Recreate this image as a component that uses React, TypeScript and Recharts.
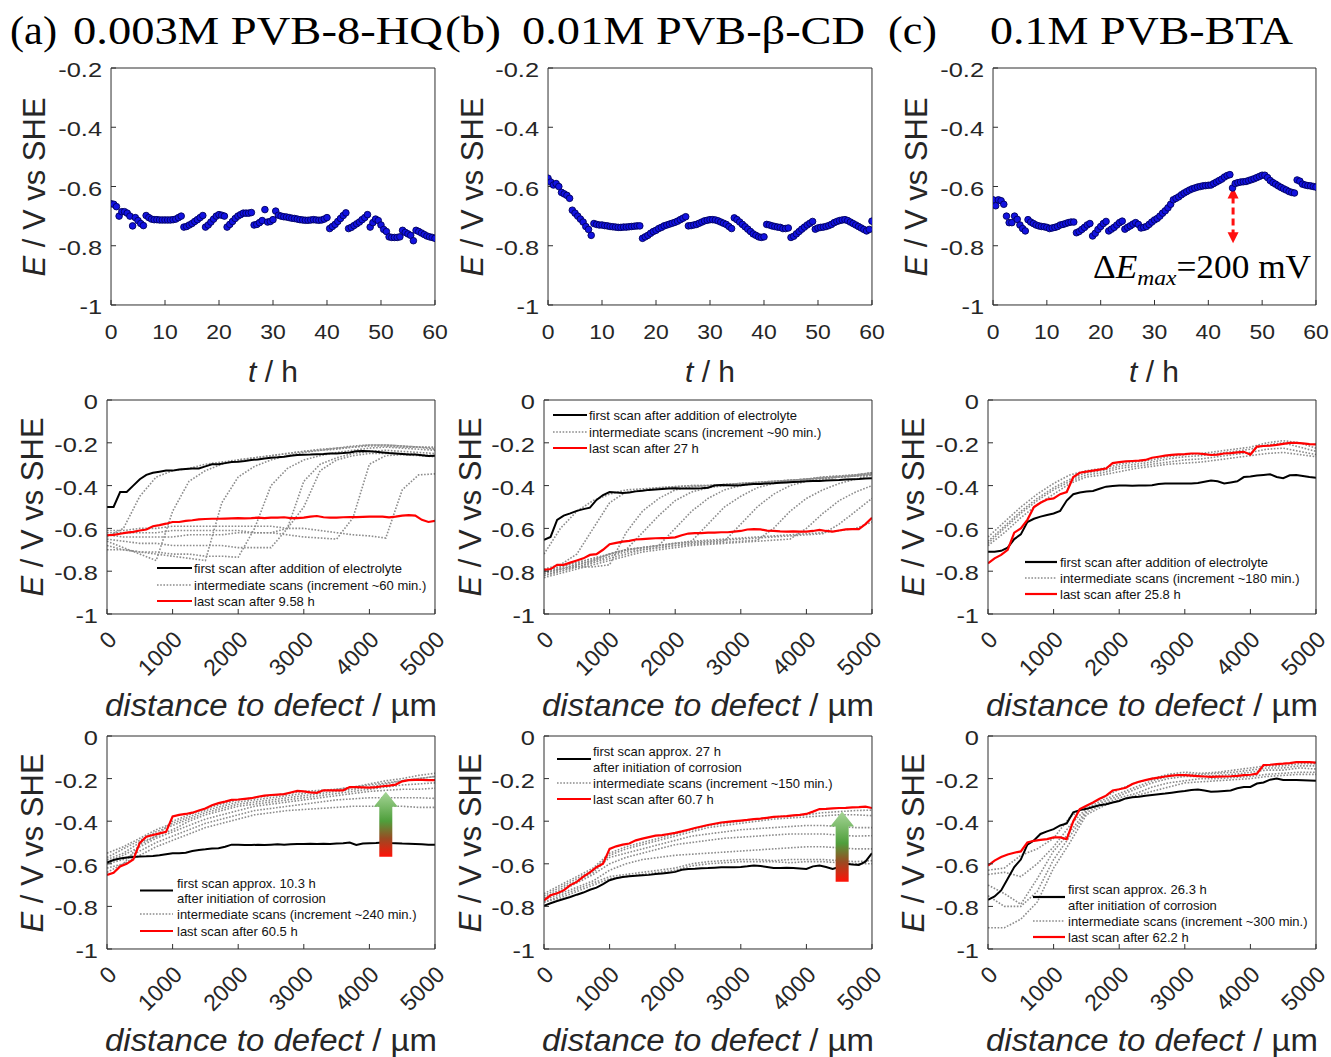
import React from 'react';
import { ComposedChart, Line, Scatter, XAxis, YAxis, ReferenceLine, Legend } from 'recharts';

const AX = '#2e2e2e';
const TXT = '#262626';
const SANS = "'Liberation Sans', Arial, Helvetica, sans-serif";
const SERIF = "'Liberation Serif', 'Times New Roman', Times, serif";
const GRAY = '#8c8c8c';
const RED = '#ff0000';
const THIN = 0.01;

const ML = 120, MT = 20, MR = 24, MB = 110;

// ---------- Row 1 : open circuit potential vs time ----------
const T_H = [0,0.5,1,1.5,2,2.5,3,3.5,4,4.5,5,5.5,6,6.5,7,7.5,8,8.5,9,9.5,10,10.5,11,11.5,12,12.5,13,13.5,14,14.5,15,15.5,16,16.5,17,17.5,18,18.5,19,19.5,20,20.5,21,21.5,22,22.5,23,23.5,24,24.5,25,25.5,26,26.5,27,27.5,28,28.5,29,29.5,30,30.5,31,31.5,32,32.5,33,33.5,34,34.5,35,35.5,36,36.5,37,37.5,38,38.5,39,39.5,40,40.5,41,41.5,42,42.5,43,43.5,44,44.5,45,45.5,46,46.5,47,47.5,48,48.5,49,49.5,50,50.5,51,51.5,52,52.5,53,53.5,54,54.5,55,55.5,56,56.5,57,57.5,58,58.5,59,59.5,60];

const E_A = [
  -0.658,-0.660,-0.668,-0.700,-0.685,-0.685,-0.690,-0.700,-0.733,-0.705,
  -0.715,-0.725,-0.732,-0.698,-0.705,-0.710,-0.712,-0.712,-0.713,-0.713,
  -0.713,-0.713,-0.713,-0.712,-0.710,-0.705,-0.700,-0.737,-0.735,-0.730,
  -0.725,-0.718,-0.712,-0.705,-0.698,-0.737,-0.730,-0.720,-0.710,-0.700,
  -0.695,-0.697,-0.700,-0.737,-0.728,-0.718,-0.708,-0.700,-0.695,-0.690,
  -0.690,-0.690,-0.688,-0.730,-0.728,-0.722,-0.715,-0.678,-0.720,-0.718,
  -0.712,-0.683,-0.697,-0.700,-0.702,-0.703,-0.705,-0.707,-0.708,-0.710,
  -0.712,-0.713,-0.714,-0.714,-0.713,-0.712,-0.713,-0.714,-0.713,-0.710,
  -0.705,-0.742,-0.735,-0.728,-0.718,-0.708,-0.698,-0.689,-0.742,-0.738,
  -0.732,-0.726,-0.720,-0.712,-0.705,-0.695,-0.737,-0.722,-0.710,-0.715,
  -0.730,-0.745,-0.752,-0.770,-0.772,-0.772,-0.772,-0.770,-0.748,-0.755,
  -0.760,-0.765,-0.783,-0.748,-0.752,-0.757,-0.762,-0.767,-0.770,-0.772,
  -0.775
];
const E_B = [
  -0.572,-0.585,-0.595,-0.590,-0.600,-0.620,-0.625,-0.630,-0.640,-0.680,
  -0.690,-0.700,-0.710,-0.720,-0.735,-0.745,-0.765,-0.725,-0.728,-0.730,
  -0.730,-0.732,-0.733,-0.735,-0.736,-0.737,-0.738,-0.738,-0.737,-0.737,
  -0.736,-0.735,-0.734,-0.733,-0.733,-0.775,-0.770,-0.765,-0.758,-0.752,
  -0.748,-0.742,-0.738,-0.733,-0.730,-0.727,-0.724,-0.721,-0.717,-0.712,
  -0.707,-0.702,-0.733,-0.732,-0.730,-0.728,-0.724,-0.720,-0.716,-0.714,
  -0.712,-0.712,-0.713,-0.716,-0.720,-0.724,-0.728,-0.735,-0.742,-0.706,
  -0.712,-0.720,-0.728,-0.736,-0.744,-0.752,-0.760,-0.765,-0.770,-0.772,
  -0.770,-0.728,-0.730,-0.733,-0.735,-0.737,-0.738,-0.742,-0.742,-0.740,
  -0.772,-0.768,-0.760,-0.752,-0.744,-0.737,-0.730,-0.724,-0.718,-0.744,
  -0.740,-0.738,-0.737,-0.735,-0.732,-0.728,-0.722,-0.718,-0.715,-0.713,
  -0.712,-0.715,-0.720,-0.725,-0.730,-0.735,-0.740,-0.745,-0.750,-0.745,
  -0.717
];
const E_C = [
  -0.645,-0.665,-0.645,-0.648,-0.660,-0.700,-0.722,-0.722,-0.700,-0.711,
  -0.730,-0.742,-0.750,-0.712,-0.720,-0.725,-0.730,-0.733,-0.735,-0.736,
  -0.738,-0.742,-0.740,-0.738,-0.735,-0.730,-0.728,-0.725,-0.722,-0.720,
  -0.720,-0.756,-0.752,-0.745,-0.738,-0.730,-0.725,-0.767,-0.758,-0.745,
  -0.735,-0.725,-0.718,-0.750,-0.744,-0.738,-0.730,-0.722,-0.717,-0.744,
  -0.738,-0.733,-0.727,-0.722,-0.728,-0.740,-0.738,-0.735,-0.728,-0.720,
  -0.713,-0.708,-0.700,-0.690,-0.682,-0.672,-0.660,-0.645,-0.640,-0.635,
  -0.628,-0.622,-0.617,-0.612,-0.608,-0.605,-0.602,-0.600,-0.598,-0.597,
  -0.596,-0.595,-0.590,-0.585,-0.580,-0.575,-0.568,-0.563,-0.560,-0.605,
  -0.590,-0.587,-0.585,-0.584,-0.583,-0.580,-0.577,-0.574,-0.570,-0.566,
  -0.562,-0.562,-0.570,-0.580,-0.587,-0.592,-0.598,-0.603,-0.608,-0.612,
  -0.617,-0.620,-0.622,-0.578,-0.582,-0.592,-0.595,-0.597,-0.598,-0.600,
  -0.602
];

const T_TICKS = [0,10,20,30,40,50,60];
const T_MINOR = [0,2,4,6,8,10,12,14,16,18,20,22,24,26,28,30,32,34,36,38,40,42,44,46,48,50,52,54,56,58,60];
const E1_TICKS = [-1,-0.8,-0.6,-0.4,-0.2];
const E1_MINOR = [-1,-0.95,-0.9,-0.85,-0.8,-0.75,-0.7,-0.65,-0.6,-0.55,-0.5,-0.45,-0.4,-0.35,-0.3,-0.25,-0.2];

// ---------- Rows 2 & 3 : line scans ----------
const D100 = [0,100,200,300,400,500,600,700,800,900,1000,1100,1200,1300,1400,1500,1600,1700,1800,1900,2000,2100,2200,2300,2400,2500,2600,2700,2800,2900,3000,3100,3200,3300,3400,3500,3600,3700,3800,3900,4000,4100,4200,4300,4400,4500,4600,4700,4800,4900,5000];
const D250 = [0,250,500,750,1000,1250,1500,1750,2000,2250,2500,2750,3000,3250,3500,3750,4000,4250,4500,4750,5000];
const D_TICKS = [0,1000,2000,3000,4000,5000];
const E2_TICKS = [-1,-0.8,-0.6,-0.4,-0.2,0];

// Row 2 (a)
const R2A_FIRST = [
  -0.500,-0.500,-0.430,-0.430,-0.400,-0.370,-0.350,-0.340,-0.335,-0.330,
  -0.330,-0.325,-0.322,-0.320,-0.320,-0.310,-0.300,-0.300,-0.295,-0.290,
  -0.288,-0.285,-0.280,-0.278,-0.273,-0.270,-0.268,-0.265,-0.260,-0.257,
  -0.256,-0.255,-0.253,-0.252,-0.250,-0.250,-0.248,-0.245,-0.240,-0.238,
  -0.240,-0.242,-0.245,-0.248,-0.250,-0.252,-0.255,-0.255,-0.258,-0.262,
  -0.260
];
const R2A_LAST = [
  -0.632,-0.630,-0.625,-0.620,-0.616,-0.610,-0.605,-0.590,-0.585,-0.578,
  -0.570,-0.570,-0.565,-0.562,-0.558,-0.556,-0.555,-0.555,-0.554,-0.553,
  -0.552,-0.553,-0.552,-0.550,-0.552,-0.550,-0.550,-0.548,-0.552,-0.552,
  -0.550,-0.545,-0.542,-0.548,-0.550,-0.550,-0.548,-0.547,-0.547,-0.546,
  -0.545,-0.545,-0.545,-0.548,-0.545,-0.540,-0.538,-0.540,-0.560,-0.570,
  -0.565
];
const R2A_M1 = [-0.64,-0.60,-0.45,-0.36,-0.33,-0.32,-0.30,-0.29,-0.28,-0.27,-0.26,-0.25,-0.24,-0.235,-0.23,-0.22,-0.215,-0.215,-0.22,-0.22,-0.225];
const R2A_M2 = [-0.66,-0.69,-0.72,-0.75,-0.52,-0.38,-0.33,-0.30,-0.28,-0.27,-0.26,-0.25,-0.24,-0.23,-0.225,-0.22,-0.21,-0.21,-0.215,-0.22,-0.22];
const R2A_M3 = [-0.68,-0.70,-0.71,-0.72,-0.73,-0.74,-0.75,-0.48,-0.36,-0.31,-0.28,-0.26,-0.245,-0.235,-0.225,-0.215,-0.21,-0.21,-0.215,-0.22,-0.23];
const R2A_M4 = [-0.70,-0.70,-0.71,-0.71,-0.72,-0.72,-0.73,-0.73,-0.735,-0.60,-0.40,-0.32,-0.28,-0.26,-0.245,-0.235,-0.225,-0.22,-0.225,-0.23,-0.235];
const R2A_M5 = [-0.65,-0.66,-0.67,-0.67,-0.68,-0.68,-0.68,-0.68,-0.69,-0.69,-0.69,-0.60,-0.38,-0.30,-0.27,-0.25,-0.24,-0.235,-0.24,-0.245,-0.25];
const R2A_M6 = [-0.63,-0.64,-0.64,-0.64,-0.64,-0.63,-0.63,-0.63,-0.62,-0.62,-0.62,-0.60,-0.50,-0.33,-0.28,-0.26,-0.25,-0.25,-0.25,-0.255,-0.26];
const R2A_M7 = [-0.62,-0.62,-0.62,-0.62,-0.61,-0.61,-0.61,-0.61,-0.61,-0.62,-0.62,-0.63,-0.64,-0.645,-0.65,-0.55,-0.30,-0.26,-0.255,-0.26,-0.265];
const R2A_M8 = [-0.61,-0.61,-0.60,-0.60,-0.59,-0.59,-0.59,-0.59,-0.59,-0.59,-0.59,-0.60,-0.60,-0.61,-0.62,-0.63,-0.635,-0.645,-0.42,-0.35,-0.345];
const R2A_MID = [R2A_M1, R2A_M2, R2A_M3, R2A_M4, R2A_M5, R2A_M6, R2A_M7, R2A_M8];

// Row 2 (b)
const R2B_FIRST = [
  -0.654,-0.640,-0.560,-0.540,-0.530,-0.518,-0.510,-0.503,-0.467,-0.444,
  -0.430,-0.432,-0.435,-0.432,-0.427,-0.424,-0.420,-0.418,-0.416,-0.414,
  -0.412,-0.413,-0.414,-0.413,-0.412,-0.410,-0.400,-0.397,-0.398,-0.399,
  -0.398,-0.395,-0.393,-0.392,-0.390,-0.389,-0.387,-0.385,-0.383,-0.382,
  -0.380,-0.379,-0.378,-0.376,-0.375,-0.374,-0.372,-0.370,-0.369,-0.367,
  -0.366
];
const R2B_LAST = [
  -0.794,-0.790,-0.770,-0.770,-0.760,-0.750,-0.740,-0.724,-0.720,-0.700,
  -0.674,-0.668,-0.662,-0.658,-0.652,-0.650,-0.648,-0.646,-0.645,-0.644,
  -0.642,-0.632,-0.624,-0.622,-0.622,-0.620,-0.620,-0.618,-0.618,-0.615,
  -0.612,-0.605,-0.603,-0.605,-0.610,-0.612,-0.614,-0.615,-0.614,-0.615,
  -0.615,-0.612,-0.607,-0.612,-0.615,-0.610,-0.605,-0.603,-0.603,-0.580,
  -0.550
];
const R2B_M1 = [-0.72,-0.60,-0.52,-0.47,-0.44,-0.42,-0.415,-0.41,-0.405,-0.40,-0.40,-0.395,-0.39,-0.385,-0.38,-0.375,-0.37,-0.365,-0.36,-0.355,-0.35];
const R2B_M2 = [-0.79,-0.77,-0.72,-0.60,-0.48,-0.43,-0.42,-0.41,-0.405,-0.40,-0.40,-0.395,-0.39,-0.385,-0.38,-0.375,-0.37,-0.365,-0.36,-0.355,-0.35];
const R2B_M3 = [-0.81,-0.79,-0.78,-0.78,-0.77,-0.62,-0.52,-0.46,-0.42,-0.405,-0.40,-0.395,-0.39,-0.385,-0.38,-0.375,-0.37,-0.365,-0.36,-0.355,-0.345];
const R2B_M4 = [-0.80,-0.78,-0.76,-0.74,-0.72,-0.70,-0.62,-0.54,-0.47,-0.43,-0.41,-0.40,-0.395,-0.39,-0.385,-0.38,-0.37,-0.365,-0.36,-0.355,-0.345];
const R2B_M5 = [-0.80,-0.79,-0.77,-0.75,-0.72,-0.70,-0.69,-0.68,-0.60,-0.52,-0.46,-0.42,-0.40,-0.39,-0.385,-0.375,-0.37,-0.36,-0.355,-0.35,-0.34];
const R2B_M6 = [-0.81,-0.79,-0.77,-0.75,-0.72,-0.70,-0.69,-0.68,-0.67,-0.66,-0.58,-0.50,-0.45,-0.41,-0.39,-0.38,-0.37,-0.36,-0.355,-0.35,-0.34];
const R2B_M7 = [-0.82,-0.80,-0.78,-0.76,-0.73,-0.71,-0.70,-0.69,-0.68,-0.67,-0.665,-0.66,-0.58,-0.50,-0.44,-0.40,-0.38,-0.37,-0.36,-0.35,-0.34];
const R2B_M8 = [-0.82,-0.80,-0.78,-0.76,-0.74,-0.72,-0.70,-0.69,-0.68,-0.675,-0.67,-0.665,-0.66,-0.655,-0.60,-0.52,-0.46,-0.42,-0.39,-0.37,-0.35];
const R2B_M9 = [-0.83,-0.81,-0.79,-0.77,-0.75,-0.73,-0.71,-0.70,-0.69,-0.68,-0.675,-0.67,-0.665,-0.66,-0.655,-0.65,-0.60,-0.53,-0.47,-0.43,-0.40];
const R2B_M10 = [-0.80,-0.78,-0.76,-0.74,-0.72,-0.70,-0.69,-0.68,-0.67,-0.665,-0.66,-0.655,-0.65,-0.645,-0.64,-0.635,-0.63,-0.625,-0.58,-0.52,-0.46];
const R2B_M11 = [-0.81,-0.79,-0.77,-0.75,-0.72,-0.70,-0.69,-0.68,-0.67,-0.66,-0.655,-0.65,-0.645,-0.64,-0.635,-0.63,-0.625,-0.62,-0.61,-0.60,-0.57];
const R2B_MID = [R2B_M1, R2B_M2, R2B_M3, R2B_M4, R2B_M5, R2B_M6, R2B_M7, R2B_M8, R2B_M9, R2B_M10, R2B_M11];

// Row 2 (c)
const R2C_FIRST = [
  -0.709,-0.709,-0.705,-0.690,-0.650,-0.628,-0.570,-0.555,-0.545,-0.537,
  -0.530,-0.518,-0.470,-0.440,-0.432,-0.428,-0.425,-0.415,-0.405,-0.402,
  -0.400,-0.400,-0.401,-0.400,-0.400,-0.398,-0.393,-0.390,-0.390,-0.390,
  -0.390,-0.390,-0.388,-0.382,-0.376,-0.380,-0.390,-0.385,-0.380,-0.360,
  -0.357,-0.353,-0.350,-0.347,-0.360,-0.365,-0.352,-0.350,-0.355,-0.360,
  -0.363
];
const R2C_LAST = [
  -0.763,-0.740,-0.724,-0.700,-0.620,-0.600,-0.560,-0.500,-0.480,-0.465,
  -0.460,-0.440,-0.430,-0.360,-0.340,-0.335,-0.330,-0.325,-0.320,-0.295,
  -0.290,-0.287,-0.285,-0.283,-0.280,-0.270,-0.265,-0.260,-0.256,-0.254,
  -0.253,-0.250,-0.250,-0.253,-0.257,-0.255,-0.250,-0.248,-0.245,-0.242,
  -0.255,-0.218,-0.215,-0.213,-0.210,-0.205,-0.200,-0.200,-0.203,-0.206,
  -0.207
];
const R2C_M1 = [-0.64,-0.57,-0.50,-0.44,-0.39,-0.35,-0.33,-0.32,-0.30,-0.29,-0.28,-0.265,-0.255,-0.25,-0.24,-0.23,-0.22,-0.20,-0.19,-0.20,-0.225];
const R2C_M2 = [-0.66,-0.59,-0.52,-0.46,-0.41,-0.37,-0.34,-0.33,-0.31,-0.30,-0.29,-0.275,-0.265,-0.26,-0.25,-0.24,-0.23,-0.21,-0.20,-0.22,-0.24];
const R2C_M3 = [-0.67,-0.60,-0.53,-0.47,-0.42,-0.38,-0.35,-0.34,-0.32,-0.31,-0.30,-0.29,-0.28,-0.275,-0.265,-0.255,-0.245,-0.23,-0.225,-0.24,-0.255];
const R2C_M4 = [-0.68,-0.62,-0.55,-0.49,-0.44,-0.39,-0.36,-0.35,-0.335,-0.32,-0.31,-0.30,-0.295,-0.29,-0.28,-0.27,-0.26,-0.25,-0.245,-0.255,-0.265];
const R2C_MID = [R2C_M1, R2C_M2, R2C_M3, R2C_M4];

// Row 3 (a)
const R3A_FIRST = [
  -0.594,-0.582,-0.575,-0.570,-0.568,-0.566,-0.565,-0.563,-0.560,-0.555,
  -0.550,-0.550,-0.548,-0.540,-0.535,-0.532,-0.528,-0.527,-0.520,-0.510,
  -0.510,-0.512,-0.512,-0.510,-0.512,-0.510,-0.508,-0.510,-0.508,-0.507,
  -0.507,-0.506,-0.507,-0.506,-0.507,-0.505,-0.503,-0.500,-0.512,-0.505,
  -0.503,-0.502,-0.500,-0.502,-0.503,-0.505,-0.506,-0.507,-0.508,-0.510,
  -0.510
];
const R3A_LAST = [
  -0.652,-0.642,-0.612,-0.600,-0.580,-0.502,-0.473,-0.465,-0.457,-0.450,
  -0.378,-0.370,-0.366,-0.360,-0.350,-0.340,-0.325,-0.315,-0.308,-0.300,
  -0.298,-0.295,-0.292,-0.285,-0.280,-0.277,-0.275,-0.273,-0.265,-0.258,
  -0.260,-0.265,-0.267,-0.255,-0.255,-0.255,-0.255,-0.240,-0.240,-0.241,
  -0.242,-0.240,-0.236,-0.233,-0.228,-0.213,-0.207,-0.206,-0.206,-0.207,
  -0.207
];
const R3A_M1 = [-0.55,-0.52,-0.48,-0.44,-0.41,-0.38,-0.35,-0.33,-0.31,-0.30,-0.29,-0.28,-0.27,-0.26,-0.25,-0.24,-0.225,-0.21,-0.20,-0.185,-0.175];
const R3A_M2 = [-0.57,-0.53,-0.49,-0.45,-0.42,-0.39,-0.36,-0.34,-0.32,-0.31,-0.30,-0.29,-0.28,-0.27,-0.26,-0.25,-0.24,-0.225,-0.21,-0.20,-0.19];
const R3A_M3 = [-0.58,-0.55,-0.50,-0.47,-0.44,-0.40,-0.37,-0.35,-0.33,-0.32,-0.31,-0.30,-0.29,-0.28,-0.27,-0.26,-0.25,-0.24,-0.23,-0.225,-0.22];
const R3A_M4 = [-0.59,-0.56,-0.52,-0.48,-0.45,-0.42,-0.39,-0.37,-0.35,-0.33,-0.32,-0.31,-0.30,-0.29,-0.28,-0.27,-0.26,-0.255,-0.25,-0.25,-0.245];
const R3A_M5 = [-0.60,-0.58,-0.54,-0.50,-0.47,-0.44,-0.41,-0.39,-0.37,-0.35,-0.34,-0.33,-0.32,-0.31,-0.30,-0.295,-0.29,-0.29,-0.29,-0.29,-0.293];
const R3A_M6 = [-0.62,-0.60,-0.56,-0.52,-0.49,-0.46,-0.43,-0.41,-0.39,-0.37,-0.36,-0.35,-0.345,-0.34,-0.335,-0.33,-0.33,-0.33,-0.33,-0.335,-0.335];
const R3A_M7 = [-0.64,-0.60,-0.51,-0.47,-0.40,-0.37,-0.34,-0.32,-0.30,-0.29,-0.28,-0.27,-0.26,-0.255,-0.25,-0.24,-0.23,-0.22,-0.21,-0.20,-0.19];
const R3A_MID = [R3A_M1, R3A_M2, R3A_M3, R3A_M4, R3A_M5, R3A_M6, R3A_M7];

// Row 3 (b)
const R3B_FIRST = [
  -0.797,-0.785,-0.775,-0.765,-0.756,-0.745,-0.735,-0.722,-0.712,-0.695,
  -0.677,-0.668,-0.662,-0.659,-0.656,-0.654,-0.652,-0.648,-0.645,-0.642,
  -0.638,-0.628,-0.624,-0.623,-0.621,-0.620,-0.618,-0.616,-0.616,-0.616,
  -0.615,-0.612,-0.608,-0.610,-0.615,-0.620,-0.620,-0.618,-0.620,-0.622,
  -0.624,-0.612,-0.608,-0.615,-0.624,-0.615,-0.600,-0.603,-0.605,-0.590,
  -0.550
];
const R3B_LAST = [
  -0.772,-0.748,-0.738,-0.725,-0.700,-0.685,-0.660,-0.640,-0.616,-0.600,
  -0.530,-0.518,-0.510,-0.505,-0.490,-0.482,-0.475,-0.468,-0.465,-0.460,
  -0.455,-0.448,-0.440,-0.432,-0.425,-0.418,-0.412,-0.406,-0.403,-0.400,
  -0.397,-0.394,-0.390,-0.388,-0.384,-0.380,-0.378,-0.376,-0.373,-0.370,
  -0.366,-0.355,-0.343,-0.342,-0.340,-0.338,-0.337,-0.335,-0.334,-0.332,
  -0.338
];
const R3B_M1 = [-0.74,-0.70,-0.66,-0.62,-0.55,-0.52,-0.50,-0.48,-0.46,-0.44,-0.42,-0.41,-0.40,-0.39,-0.38,-0.375,-0.37,-0.36,-0.355,-0.35,-0.348];
const R3B_M2 = [-0.75,-0.71,-0.67,-0.63,-0.56,-0.53,-0.51,-0.49,-0.47,-0.45,-0.43,-0.42,-0.41,-0.40,-0.39,-0.385,-0.38,-0.375,-0.37,-0.37,-0.374];
const R3B_M3 = [-0.76,-0.72,-0.68,-0.64,-0.57,-0.55,-0.53,-0.51,-0.49,-0.47,-0.46,-0.45,-0.44,-0.435,-0.43,-0.425,-0.42,-0.42,-0.425,-0.43,-0.43];
const R3B_M4 = [-0.76,-0.73,-0.69,-0.65,-0.60,-0.57,-0.55,-0.53,-0.51,-0.50,-0.49,-0.48,-0.475,-0.47,-0.465,-0.46,-0.46,-0.46,-0.465,-0.47,-0.468];
const R3B_M5 = [-0.77,-0.74,-0.71,-0.68,-0.63,-0.60,-0.58,-0.57,-0.56,-0.555,-0.55,-0.545,-0.54,-0.535,-0.53,-0.525,-0.52,-0.52,-0.525,-0.53,-0.53];
const R3B_M6 = [-0.78,-0.75,-0.72,-0.69,-0.66,-0.65,-0.64,-0.63,-0.62,-0.60,-0.59,-0.585,-0.58,-0.58,-0.585,-0.58,-0.58,-0.58,-0.585,-0.59,-0.585];
const R3B_M7 = [-0.78,-0.76,-0.73,-0.70,-0.67,-0.66,-0.65,-0.64,-0.63,-0.61,-0.60,-0.595,-0.59,-0.59,-0.59,-0.595,-0.59,-0.59,-0.595,-0.60,-0.60];
const R3B_MID = [R3B_M1, R3B_M2, R3B_M3, R3B_M4, R3B_M5, R3B_M6, R3B_M7];

// Row 3 (c)
const R3C_FIRST = [
  -0.769,-0.753,-0.725,-0.670,-0.615,-0.580,-0.510,-0.490,-0.460,-0.448,
  -0.437,-0.420,-0.410,-0.358,-0.348,-0.342,-0.333,-0.325,-0.320,-0.312,
  -0.305,-0.293,-0.288,-0.285,-0.281,-0.277,-0.273,-0.270,-0.266,-0.262,
  -0.258,-0.253,-0.251,-0.256,-0.262,-0.260,-0.258,-0.256,-0.245,-0.239,
  -0.239,-0.223,-0.218,-0.205,-0.200,-0.207,-0.207,-0.207,-0.208,-0.209,
  -0.210
];
const R3C_LAST = [
  -0.608,-0.585,-0.568,-0.556,-0.548,-0.542,-0.500,-0.492,-0.488,-0.484,
  -0.476,-0.476,-0.484,-0.400,-0.343,-0.327,-0.312,-0.295,-0.280,-0.256,
  -0.250,-0.243,-0.225,-0.215,-0.207,-0.200,-0.195,-0.190,-0.186,-0.183,
  -0.184,-0.186,-0.188,-0.190,-0.192,-0.191,-0.190,-0.189,-0.187,-0.184,
  -0.182,-0.177,-0.137,-0.135,-0.132,-0.130,-0.127,-0.123,-0.122,-0.123,
  -0.125
];
const R3C_M1 = [-0.63,-0.62,-0.56,-0.53,-0.48,-0.38,-0.33,-0.29,-0.25,-0.22,-0.20,-0.18,-0.17,-0.175,-0.17,-0.16,-0.15,-0.14,-0.14,-0.13,-0.13];
const R3C_M2 = [-0.65,-0.64,-0.66,-0.60,-0.52,-0.42,-0.34,-0.30,-0.27,-0.24,-0.21,-0.19,-0.18,-0.18,-0.175,-0.17,-0.16,-0.15,-0.15,-0.14,-0.14];
const R3C_M3 = [-0.70,-0.74,-0.79,-0.67,-0.54,-0.45,-0.35,-0.31,-0.28,-0.25,-0.22,-0.20,-0.19,-0.19,-0.185,-0.18,-0.17,-0.16,-0.16,-0.15,-0.155];
const R3C_M4 = [-0.75,-0.80,-0.80,-0.73,-0.58,-0.47,-0.36,-0.32,-0.29,-0.27,-0.24,-0.22,-0.21,-0.20,-0.20,-0.195,-0.19,-0.18,-0.175,-0.17,-0.17];
const R3C_M5 = [-0.90,-0.90,-0.86,-0.78,-0.62,-0.50,-0.37,-0.33,-0.30,-0.28,-0.26,-0.24,-0.22,-0.215,-0.21,-0.205,-0.20,-0.19,-0.185,-0.18,-0.18];
const R3C_MID = [R3C_M1, R3C_M2, R3C_M3, R3C_M4, R3C_M5];

const pts = (xs: number[], ys: number[]) => xs.map((x, i) => ({ x, y: ys[i] }));

// ---------- ticks ----------
function YTickLabel(p: any) {
  return (
    <text transform={`translate(${p.x},${p.y + 9}) scale(1.24,1)`} textAnchor="end" fontSize={20.5} fontFamily={SANS} fill={TXT}>
      {String(p.payload.value)}
    </text>
  );
}
function XTickLabel(p: any) {
  return (
    <text transform={`translate(${p.x},${p.y + 34}) scale(1.12,1)`} textAnchor="middle" fontSize={20.5} fontFamily={SANS} fill={TXT}>
      {String(p.payload.value)}
    </text>
  );
}
function XTickRot(p: any) {
  return (
    <text transform={`translate(${p.x + 11},${p.y + 27}) rotate(-45)`} textAnchor="end" fontSize={23} fontFamily={SANS} fill={TXT}>
      {String(p.payload.value)}
    </text>
  );
}

// ---------- annotations ----------
function RedArrow(p: any) {
  const x = p.x1;
  const ya = Math.min(p.y1, p.y2);
  const yb = Math.max(p.y1, p.y2);
  return (
    <g>
      <line x1={x} y1={ya + 9} x2={x} y2={yb - 9} stroke="#ff1010" strokeWidth={3} strokeDasharray="7 4" />
      <polygon points={`${x},${ya} ${x - 5.5},${ya + 11} ${x + 5.5},${ya + 11}`} fill="#ff1010" />
      <polygon points={`${x},${yb} ${x - 5.5},${yb - 11} ${x + 5.5},${yb - 11}`} fill="#ff1010" />
    </g>
  );
}
const makeGradArrow = (id: string) => (p: any) => {
  const x = p.x1;
  const ya = Math.min(p.y1, p.y2);
  const yb = Math.max(p.y1, p.y2);
  const hw = 12, sw = 6.5, hh = 15;
  return (
    <g>
      <defs>
        <linearGradient id={id} gradientUnits="userSpaceOnUse" x1={0} y1={ya} x2={0} y2={yb}>
          <stop offset="0" stopColor="#a6d597" />
          <stop offset="0.45" stopColor="#4f9f3c" />
          <stop offset="0.72" stopColor="#9a4a22" />
          <stop offset="1" stopColor="#ff1208" />
        </linearGradient>
      </defs>
      <polygon
        points={`${x},${ya} ${x + hw},${ya + hh} ${x + sw},${ya + hh} ${x + sw},${yb} ${x - sw},${yb} ${x - sw},${ya + hh} ${x - hw},${ya + hh}`}
        fill={`url(#${id})`}
      />
    </g>
  );
};
const GradArrowA = makeGradArrow('gradArrowA');
const GradArrowB = makeGradArrow('gradArrowB');

type LegItem = { kind: 'first' | 'mid' | 'last'; y: number; texts: { t: string; y: number }[] };
type LegSpec = { x0: number; y0: number; w: number; h: number; lx1: number; lx2: number; tx: number; items: LegItem[] };

function LegendSvg({ spec }: { spec: LegSpec }) {
  const { x0, y0, w, h, lx1, lx2, tx, items } = spec;
  return (
    <svg width={w} height={h} viewBox={`${x0} ${y0} ${w} ${h}`} style={{ display: 'block', overflow: 'visible' }}>
      {items.map((it, i) => (
        <g key={i}>
          <line
            x1={lx1}
            x2={lx2}
            y1={it.y}
            y2={it.y}
            stroke={it.kind === 'first' ? '#000' : it.kind === 'last' ? RED : GRAY}
            strokeWidth={it.kind === 'mid' ? 1.6 : 2.2}
            strokeDasharray={it.kind === 'mid' ? '1.6 1.6' : undefined}
          />
          {it.texts.map((t, j) => (
            <text key={j} x={tx} y={t.y + 4.5} fontSize={13} fontFamily={SANS} fill="#111">
              {t.t}
            </text>
          ))}
        </g>
      ))}
    </svg>
  );
}

function Panel(props: any) {
  const { left, top, w, h, xDomain, yDomain, xTicks, yTicks, xMinor, yMinor, rotated, legend, children } = props;
  const ax = { stroke: AX, strokeWidth: 1 };
  return (
    <div style={{ position: 'absolute', left: left - ML, top: top - MT }}>
      <ComposedChart width={w + ML + MR} height={h + MT + MB} margin={{ top: MT, right: MR, bottom: MB, left: ML }}>
        <XAxis type="number" dataKey="x" domain={xDomain} ticks={xTicks} interval={0} allowDataOverflow height={THIN}
          tickSize={-5} tickMargin={5} axisLine={ax} tickLine={ax} tick={rotated ? XTickRot : XTickLabel} />
        <XAxis xAxisId="top" orientation="top" type="number" domain={xDomain} ticks={xTicks} interval={0} allowDataOverflow height={THIN}
          tickSize={-5} axisLine={ax} tickLine={ax} tick={false} />
        <YAxis type="number" dataKey="y" domain={yDomain} ticks={yTicks} interval={0} allowDataOverflow width={THIN}
          tickSize={-5} tickMargin={14} axisLine={ax} tickLine={ax} tick={YTickLabel} />
        <YAxis yAxisId="right" orientation="right" type="number" domain={yDomain} ticks={yTicks} interval={0} allowDataOverflow width={THIN}
          tickSize={-5} axisLine={ax} tickLine={ax} tick={false} />
        {xMinor ? (
          <XAxis xAxisId="bm" type="number" domain={xDomain} ticks={xMinor} interval={0} allowDataOverflow height={THIN}
            tickSize={-3} axisLine={false} tickLine={ax} tick={false} />
        ) : null}
        {xMinor ? (
          <XAxis xAxisId="tm" orientation="top" type="number" domain={xDomain} ticks={xMinor} interval={0} allowDataOverflow height={THIN}
            tickSize={-3} axisLine={false} tickLine={ax} tick={false} />
        ) : null}
        {yMinor ? (
          <YAxis yAxisId="lm" type="number" domain={yDomain} ticks={yMinor} interval={0} allowDataOverflow width={THIN}
            tickSize={-3} axisLine={false} tickLine={ax} tick={false} />
        ) : null}
        {yMinor ? (
          <YAxis yAxisId="rm" orientation="right" type="number" domain={yDomain} ticks={yMinor} interval={0} allowDataOverflow width={THIN}
            tickSize={-3} axisLine={false} tickLine={ax} tick={false} />
        ) : null}
        {children}
        {legend ? (
          <Legend
            layout="vertical"
            align="center"
            verticalAlign="middle"
            wrapperStyle={{ left: legend.x0 - (left - ML), top: legend.y0 - (top - MT), width: legend.w, height: legend.h, margin: 0, padding: 0 }}
            content={() => <LegendSvg spec={legend} />}
          />
        ) : null}
      </ComposedChart>
    </div>
  );
}

const Dot = (p: any) => <circle cx={p.cx} cy={p.cy} r={3.3} fill="#1212e0" stroke="#000060" strokeWidth={0.9} />;

function TopPanel({ left, w, data }: { left: number; w: number; data: number[] }) {
  return (
    <Panel left={left} top={68} w={w} h={237} xDomain={[0, 60]} yDomain={[-1, -0.2]} xTicks={T_TICKS} yTicks={E1_TICKS}
      xMinor={T_MINOR} yMinor={E1_MINOR}>
      <Scatter data={pts(T_H, data)} dataKey="y" isAnimationActive={false} shape={Dot} />
    </Panel>
  );
}

function ScanPanel({ left, top, h, mids, first, last, legend, extra }: any) {
  return (
    <Panel left={left} top={top} w={328} h={h} xDomain={[0, 5000]} yDomain={[-1, 0]} xTicks={D_TICKS} yTicks={E2_TICKS} rotated legend={legend}>
      {mids.map((m: number[], i: number) => (
        <Line key={`m${i}`} data={pts(D250, m)} dataKey="y" stroke={GRAY} strokeWidth={1.6} strokeDasharray="1.6 1.6"
          dot={false} activeDot={false} isAnimationActive={false} type="linear" />
      ))}
      <Line data={pts(D100, first)} dataKey="y" stroke="#000" strokeWidth={2} dot={false} activeDot={false} isAnimationActive={false} type="linear" />
      <Line data={pts(D100, last)} dataKey="y" stroke={RED} strokeWidth={2.2} dot={false} activeDot={false} isAnimationActive={false} type="linear" />
      {extra}
    </Panel>
  );
}

const legSimple = (lx1: number, lx2: number, tx: number, y1: number, y2: number, y3: number, mid: string, last: string): LegSpec => ({
  x0: lx1 - 4, y0: y1 - 14, w: 300, h: y3 - y1 + 28, lx1, lx2, tx,
  items: [
    { kind: 'first', y: y1, texts: [{ t: 'first scan after addition of electrolyte', y: y1 }] },
    { kind: 'mid', y: y2, texts: [{ t: mid, y: y2 }] },
    { kind: 'last', y: y3, texts: [{ t: last, y: y3 }] },
  ],
});
const legCorr = (lx1: number, lx2: number, tx: number, ta: number, tb: number, y2: number, y3: number, first: string, mid: string, last: string): LegSpec => ({
  x0: lx1 - 4, y0: ta - 14, w: 300, h: y3 - ta + 28, lx1, lx2, tx,
  items: [
    { kind: 'first', y: (ta + tb) / 2, texts: [{ t: first, y: ta }, { t: 'after initiation of corrosion', y: tb }] },
    { kind: 'mid', y: y2, texts: [{ t: mid, y: y2 }] },
    { kind: 'last', y: y3, texts: [{ t: last, y: y3 }] },
  ],
});

function Titles() {
  const yTitle = (bx: number, cy: number, key: string) => (
    <text key={key} transform={`translate(${bx},${cy}) rotate(-90)`} textAnchor="middle" fontSize={31} fontFamily={SANS} fill={TXT}>
      <tspan fontStyle="italic">E</tspan> / V vs SHE
    </text>
  );
  const tTitle = (cx: number, key: string) => (
    <text key={key} x={cx} y={382} textAnchor="middle" fontSize={30} fontFamily={SANS} fill={TXT}>
      <tspan fontStyle="italic">t</tspan> / h
    </text>
  );
  const dTitle = (cx: number, y: number, key: string) => (
    <text key={key} x={cx} y={y} textAnchor="middle" fontSize={31} fontFamily={SANS} fill={TXT} textLength={332} lengthAdjust="spacingAndGlyphs">
      <tspan fontStyle="italic">distance to defect</tspan> / µm
    </text>
  );
  return (
    <svg width={1331} height={1057} style={{ position: 'absolute', left: 0, top: 0, pointerEvents: 'none' }}>
      <g fontFamily={SERIF} fontSize={41} fill="#000">
        <text x={10} y={44} textLength={47} lengthAdjust="spacingAndGlyphs">(a)</text>
        <text x={73} y={44} textLength={370} lengthAdjust="spacingAndGlyphs">0.003M PVB-8-HQ</text>
        <text x={445} y={44} textLength={56} lengthAdjust="spacingAndGlyphs">(b)</text>
        <text x={522} y={44} textLength={343} lengthAdjust="spacingAndGlyphs">0.01M PVB-β-CD</text>
        <text x={888} y={44} textLength={49} lengthAdjust="spacingAndGlyphs">(c)</text>
        <text x={990} y={44} textLength={303} lengthAdjust="spacingAndGlyphs">0.1M PVB-BTA</text>
      </g>
      {yTitle(45, 187, 'y1')}
      {yTitle(483, 187, 'y2')}
      {yTitle(927, 187, 'y3')}
      {yTitle(43, 507, 'y4')}
      {yTitle(481, 507, 'y5')}
      {yTitle(924, 507, 'y6')}
      {yTitle(43, 843, 'y7')}
      {yTitle(481, 843, 'y8')}
      {yTitle(924, 843, 'y9')}
      {tTitle(273, 't1')}
      {tTitle(710, 't2')}
      {tTitle(1154, 't3')}
      {dTitle(271, 716, 'd1')}
      {dTitle(708, 716, 'd2')}
      {dTitle(1152, 716, 'd3')}
      {dTitle(271, 1051, 'd4')}
      {dTitle(708, 1051, 'd5')}
      {dTitle(1152, 1051, 'd6')}
      <text transform="translate(1093,278) scale(1.07,1)" fontFamily={SERIF} fontSize={33} fill="#000">
        Δ<tspan fontStyle="italic">E</tspan>
        <tspan fontStyle="italic" fontSize={22} dy={7}>max</tspan>
        <tspan dy={-7}>=200 mV</tspan>
      </text>
    </svg>
  );
}

export default function App() {
  return (
    <div style={{ position: 'absolute', left: 0, top: 0, width: 1331, height: 1057, background: '#fff', overflow: 'hidden' }}>
      <TopPanel left={111} w={324} data={E_A} />
      <TopPanel left={548} w={324} data={E_B} />
      <Panel left={993} top={68} w={323} h={237} xDomain={[0, 60]} yDomain={[-1, -0.2]} xTicks={T_TICKS} yTicks={E1_TICKS}
        xMinor={T_MINOR} yMinor={E1_MINOR}>
        <Scatter data={pts(T_H, E_C)} dataKey="y" isAnimationActive={false} shape={Dot} />
        <ReferenceLine segment={[{ x: 44.6, y: -0.603 }, { x: 44.6, y: -0.792 }]} ifOverflow="visible" shape={RedArrow} />
      </Panel>

      <ScanPanel left={107} top={400} h={214} mids={R2A_MID} first={R2A_FIRST} last={R2A_LAST}
        legend={legSimple(157, 192, 194, 568, 585, 601, 'intermediate scans (increment ~60 min.)', 'last scan after 9.58 h')} />
      <ScanPanel left={544} top={400} h={214} mids={R2B_MID} first={R2B_FIRST} last={R2B_LAST}
        legend={legSimple(553, 587, 589, 415, 432, 448, 'intermediate scans (increment ~90 min.)', 'last scan after 27 h')} />
      <ScanPanel left={988} top={400} h={214} mids={R2C_MID} first={R2C_FIRST} last={R2C_LAST}
        legend={legSimple(1025, 1057, 1060, 562, 578, 594, 'intermediate scans (increment ~180 min.)', 'last scan after 25.8 h')} />

      <ScanPanel left={107} top={736} h={213} mids={R3A_MID} first={R3A_FIRST} last={R3A_LAST}
        legend={legCorr(140, 173, 177, 883, 898, 914, 931, 'first scan approx. 10.3 h', 'intermediate scans (increment ~240 min.)', 'last scan after 60.5 h')}
        extra={<ReferenceLine segment={[{ x: 4250, y: -0.262 }, { x: 4250, y: -0.567 }]} ifOverflow="visible" shape={GradArrowA} />} />
      <ScanPanel left={544} top={736} h={213} mids={R3B_MID} first={R3B_FIRST} last={R3B_LAST}
        legend={legCorr(557, 591, 593, 751, 767, 783, 799, 'first scan approx. 27 h', 'intermediate scans (increment ~150 min.)', 'last scan after 60.7 h')}
        extra={<ReferenceLine segment={[{ x: 4545, y: -0.355 }, { x: 4545, y: -0.684 }]} ifOverflow="visible" shape={GradArrowB} />} />
      <ScanPanel left={988} top={736} h={213} mids={R3C_MID} first={R3C_FIRST} last={R3C_LAST}
        legend={legCorr(1033, 1065, 1068, 889, 905, 921, 937, 'first scan approx. 26.3 h', 'intermediate scans (increment ~300 min.)', 'last scan after 62.2 h')} />

      <Titles />
    </div>
  );
}
